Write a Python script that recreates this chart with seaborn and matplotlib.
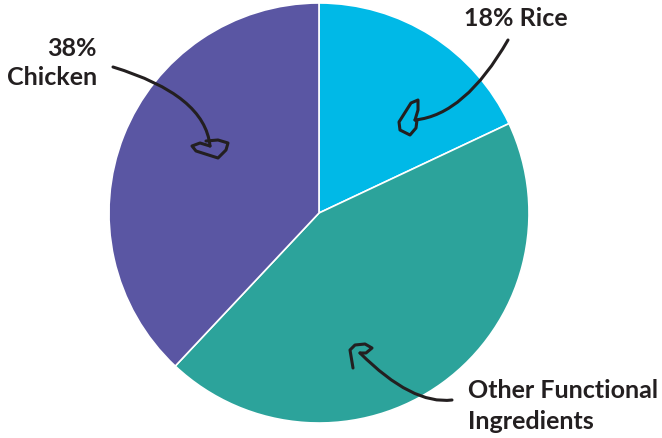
import matplotlib.pyplot as plt
import seaborn as sns
from matplotlib.path import Path
from matplotlib.patches import PathPatch

sns.set_theme(style="white")
plt.rcParams["font.family"] = ["Lato", "DejaVu Sans"]

labels = ["Rice", "Other Functional Ingredients", "Chicken"]
shares = [18, 44, 38]
colors = ["#00b9e7", "#2ca39b", "#5a56a3"]

W, H = 662, 438
TEXT = "#231f20"


def px(x, y):
    # image pixel coords -> axes data coords (y up)
    return (x, H - y)


def squiggle(ax, start, ctrl, end, loop):
    verts = [px(*start), px(*ctrl), px(*end)]
    path = Path(verts, [Path.MOVETO, Path.CURVE3, Path.CURVE3])
    ax.add_patch(PathPatch(path, fill=False, lw=2.2, ec=TEXT, capstyle="round"))
    lx = [px(*p)[0] for p in loop]
    ly = [px(*p)[1] for p in loop]
    ax.plot(lx, ly, color=TEXT, lw=2.2, solid_joinstyle="round", solid_capstyle="round")


fig = plt.figure(figsize=(6.62, 4.38), dpi=100)
ax = fig.add_axes([0, 0, 1, 1])
ax.pie(
    shares,
    colors=colors,
    startangle=90,
    counterclock=False,
    center=px(319, 213),
    radius=210,
    wedgeprops={"edgecolor": "white", "linewidth": 1.2},
)
ax.set_xlim(0, W)
ax.set_ylim(0, H)
ax.set_aspect("equal")
ax.axis("off")

fs = 18
ax.text(*px(97, 63), f"{shares[2]}%\n{labels[2]}", ha="right", va="center",
        multialignment="right", fontsize=fs, fontweight="bold", color=TEXT, linespacing=1.35)
ax.text(*px(464, 18), f"{shares[0]}% {labels[0]}", ha="left", va="center",
        fontsize=fs, fontweight="bold", color=TEXT)
ax.text(*px(468, 406), "Other Functional\nIngredients", ha="left", va="center",
        fontsize=fs, fontweight="bold", color=TEXT, linespacing=1.4)

# hand-drawn arrows
squiggle(ax, (113, 67), (205, 95), (210, 146),
         [(210, 146), (200, 143), (192, 146), (196, 151), (218, 158), (226, 150),
          (228, 143), (218, 140), (206, 141)])
squiggle(ax, (508, 40), (465, 115), (415, 120),
         [(415, 120), (418, 110), (418, 100), (411, 103), (399, 122), (400, 130),
          (410, 135), (416, 128), (417, 120)])
squiggle(ax, (452, 400), (412, 405), (360, 353),
         [(360, 353), (366, 353), (372, 348), (365, 344), (355, 345), (350, 350),
          (353, 368)])

fig.savefig("out.png", dpi=100)
